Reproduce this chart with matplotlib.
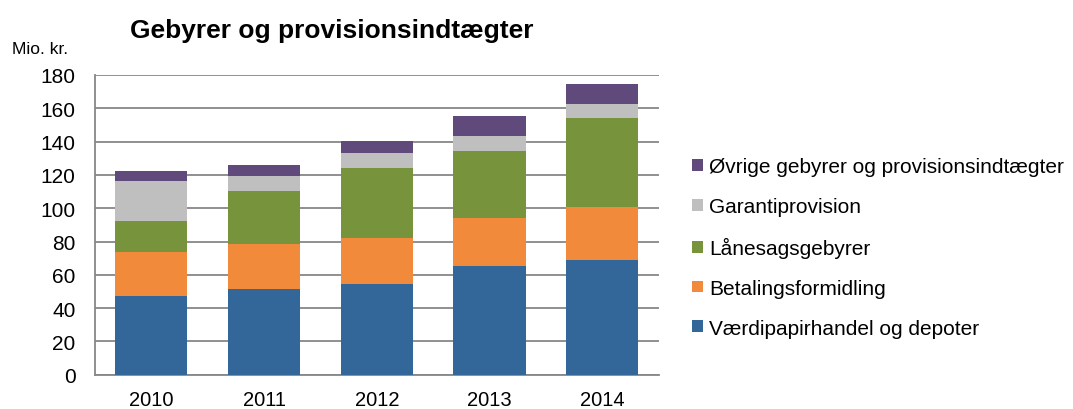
import matplotlib
matplotlib.use("Agg")
from matplotlib import pyplot as plt
import numpy as np

plt.rcParams['font.family'] = ['Liberation Sans', 'DejaVu Sans']

# Mio. kr. per category
years = ["2010", "2011", "2012", "2013", "2014"]
vaerdipapir = [47.4, 51.6, 54.4, 65.4, 68.8]
betaling = [26.0, 26.6, 27.6, 28.8, 32.2]
laanesag = [19.0, 32.2, 42.0, 40.2, 53.0]
garanti = [23.8, 9.0, 9.0, 9.2, 8.6]
oevrige = [6.4, 6.6, 7.2, 11.6, 12.0]

series = [
    ("Værdipapirhandel og depoter", vaerdipapir, "#336699"),
    ("Betalingsformidling", betaling, "#F28A3C"),
    ("Lånesagsgebyrer", laanesag, "#77933C"),
    ("Garantiprovision", garanti, "#BFBFBF"),
    ("Øvrige gebyrer og provisionsindtægter", oevrige, "#604A7B"),
]

fig = plt.figure(figsize=(10.73, 4.10), dpi=100)
ax = fig.add_axes([95 / 1073, 1 - 375.7 / 410, 563.5 / 1073, 299.7 / 410])

x = np.arange(len(years))
bottom = np.zeros(len(years))
handles = []
for label, vals, col in series:
    b = ax.bar(x, vals, width=0.64, bottom=bottom, color=col, label=label, zorder=3)
    handles.append(b)
    bottom += np.array(vals)

ax.set_xlim(-0.5, 4.5)
ax.set_ylim(0, 180)
ax.set_yticks(range(0, 181, 20))
ax.set_xticks(x)
ax.set_xticklabels(years)
ax.yaxis.grid(True, color="#878787", linewidth=1.3, zorder=0)
for s in ["top", "right"]:
    ax.spines[s].set_visible(False)
ax.spines["left"].set_color("#878787")
ax.spines["bottom"].set_color("#878787")
ax.spines["left"].set_linewidth(1.3)
ax.spines["bottom"].set_linewidth(1.3)
ax.tick_params(axis="x", length=0, labelsize=14.5, pad=11)
ax.tick_params(axis="y", length=0, labelsize=15, pad=14)

fig.text(130 / 1073, 1 - 31 / 410, "Gebyrer og provisionsindtægter",
         fontsize=19, fontweight="bold", va="center", ha="left")
fig.text(12 / 1073, 1 - 50 / 410, "Mio. kr.", fontsize=12.5, va="center", ha="left")

fig.legend(handles[::-1], [s[0] for s in series][::-1],
           loc="upper left", bbox_to_anchor=(684 / 1073, 1 - 150 / 410),
           frameon=False, fontsize=15, handlelength=0.5, handleheight=0.5,
           handletextpad=0.3, labelspacing=1.0, borderaxespad=0)

fig.savefig("out.png", dpi=100)
